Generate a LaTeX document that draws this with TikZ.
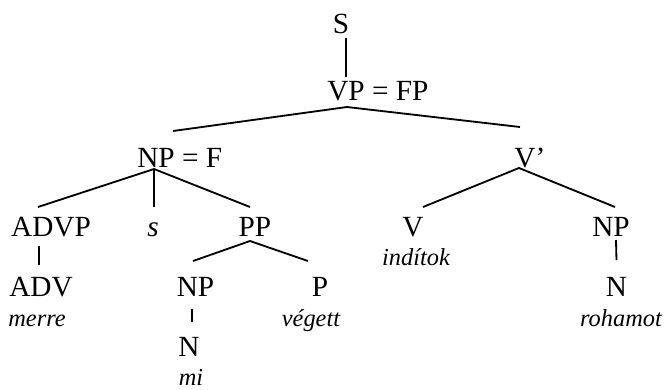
\documentclass[tikz,border=0pt]{standalone}
\usepackage{fontspec}
\setmainfont{Liberation Serif}
\usetikzlibrary{calc}
\begin{document}
\begin{tikzpicture}[x=0.41pt,y=-0.41pt,line width=0.75pt,
      every node/.style={inner sep=0pt,anchor=base,font=\fontsize{12}{14}\selectfont},
      word/.style={font=\fontsize{10}{12}\selectfont\itshape}]
      \useasboundingbox (0,0) rectangle (664,389);
      \node (S) at (341,33) {S};
      \node (VP) at (346,100) {VP\rlap{ = FP}};
      \node (NPF) at (156,167) {NP\rlap{ = F}};
      \node (Vbar) at (525,167) {V\rlap{’}};
      \node (ADVP) at (51,236) {ADVP};
      \node[font=\fontsize{12}{14}\selectfont\itshape] (sconj) at (153,236) {s};
      \node (PP) at (255,236) {PP};
      \node (V) at (413,236) {V};
      \node (NPo) at (611,236) {NP};
      \node[word] (inditok) at (416,265) {indítok};
      \node (ADV) at (41,296.5) {ADV};
      \node (NPi) at (195.5,296.5) {NP};
      \node (P) at (320,296.5) {P};
      \node (No) at (616.5,296.5) {N};
      \node[word] (merre) at (37,326) {merre};
      \node[word] (vegett) at (311,326) {végett};
      \node[word] (rohamot) at (621,326) {rohamot};
      \node (Ni) at (189,356) {N};
      \node[word] (mi) at (191,385) {mi};
      \draw ($(S.base)+(5,5)$)--($(VP.base)+(0,-23)$);
      \draw ($(NPF.base)+(17,-36)$)--($(VP.base)+(1,7)$)--($(Vbar.base)+(-5,-40)$);
      \draw ($(ADVP.base)+(-13,-29)$)--($(NPF.base)+(-2,2)$)--($(PP.base)+(-5,-29)$);
      \draw ($(NPF.base)+(-2,2)$)--($(sconj.base)+(1,-29)$);
      \draw ($(V.base)+(10,-29)$)--($(Vbar.base)+(-6,1)$)--($(NPo.base)+(4,-29)$);
      \draw ($(ADVP.base)+(-12,10)$)--($(ADV.base)+(-2,-31.5)$);
      \draw ($(NPi.base)+(-2.5,-35.5)$)--($(PP.base)+(-5,5)$)--($(P.base)+(-12,-35.5)$);
      \draw ($(NPo.base)+(5,4)$)--($(No.base)+(0,-36.5)$);
      \draw ($(NPi.base)+(-3.5,12.5)$)--($(Ni.base)+(3,-34)$);
    \end{tikzpicture}
\end{document}
